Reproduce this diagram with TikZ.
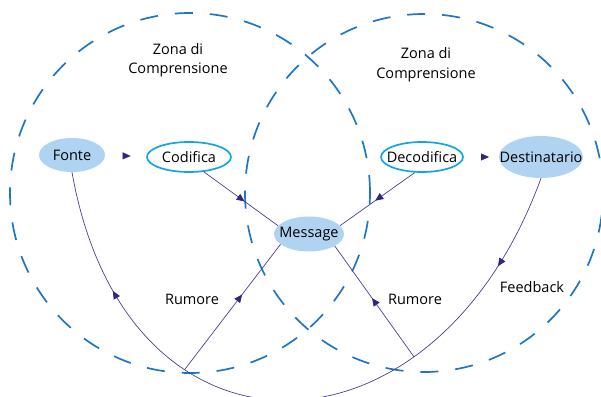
\documentclass[tikz,border=0pt]{standalone}
\usepackage{fontspec}
\setmainfont{Open Sans}
\usepackage{tikz}
\usetikzlibrary{positioning,arrows.meta,shapes.geometric,decorations.markings}
\definecolor{zonac}{HTML}{1E76C3}
\definecolor{bollac}{HTML}{AFD3F1}
\definecolor{anelloc}{HTML}{14A4E4}
\definecolor{lineac}{HTML}{4C3D95}
\definecolor{puntac}{HTML}{2F2582}
\tikzset{
  testo/.style={font=\fontsize{14.5}{19}\selectfont},
  bolla/.style={testo,ellipse,inner xsep=-20pt,inner ysep=0pt},
  piena/.style={bolla,fill=bollac},
  vuota/.style={bolla,draw=anelloc,line width=1.7pt,fill=white},
  etichetta/.style={testo,text height=1.5ex,text depth=.25ex},
  filo/.style={draw=lineac,line width=0.7pt},
  freccia/.style={postaction={decorate},decoration={markings,
    mark=at position #1 with {\arrow[puntac]{Triangle[length=8pt,width=7pt]}}}}
}
\newcommand{\zona}[3]{%
  \draw[zonac,line width=1.7pt,dash pattern=on 18pt off 17pt] (#1,#2) circle (#3pt);
}

\begin{document}
\begin{tikzpicture}[x=1pt,y=1pt]
  \useasboundingbox (0,0) rectangle (601,396);
  \zona{190}{203}{180}
  \zona{424}{203}{179}
  \node[testo,align=center] (zona1) at (178,335.5) {Zona di\\Comprensione};
  \node[testo,align=center,font=\fontsize{14.5}{20}\selectfont] (zona2) at (426,331) {Zona di\\Comprensione};

  \node[piena,minimum width=66pt,minimum height=34pt] (fonte) at (72,241) {Fonte};
  \node[vuota,minimum width=84pt,minimum height=30pt] (codifica) at (189,239) {Codifica};
  \node[vuota,minimum width=82pt,minimum height=30pt] (decodifica) at (422,239) {Decodifica};
  \node[piena,minimum width=84pt,minimum height=42pt] (destinatario) at (541,239) {Destinatario};
  \node[piena,minimum width=70pt,minimum height=35pt] (message) at (309,162) {Message};

  % solo punte tra i nodi in alto
  \path[freccia=0.62] (fonte) -- (codifica);
  \path[freccia=0.72] (decodifica) -- (destinatario);

  \draw[filo,freccia=0.55] (codifica.-45) -- (message.165);
  \draw[filo,freccia=0.53] (decodifica.-115) -- (message.15);

  % feedback
  \draw[filo,postaction={decorate},decoration={markings,
      mark=at position 0.14 with {\arrow[puntac]{Triangle[length=8pt,width=7pt]}},
      mark=at position 0.82 with {\arrow[puntac]{Triangle[length=8pt,width=7pt]}}}]
    (destinatario.south) to[out=-110,in=-80,looseness=1.7]
      coordinate[pos=0.28] (r2) coordinate[pos=0.685] (r1) (fonte.south);

  \draw[filo,freccia=0.6] (r1) -- (message.-160);
  \draw[filo,freccia=0.53] (r2) -- (message.-25);

  \node[etichetta] (rumore1) at (192,95) {Rumore};
  \node[etichetta] (rumore2) at (415,95) {Rumore};
  \node[etichetta] (feedback) at (532,107) {Feedback};
\end{tikzpicture}
\end{document}
